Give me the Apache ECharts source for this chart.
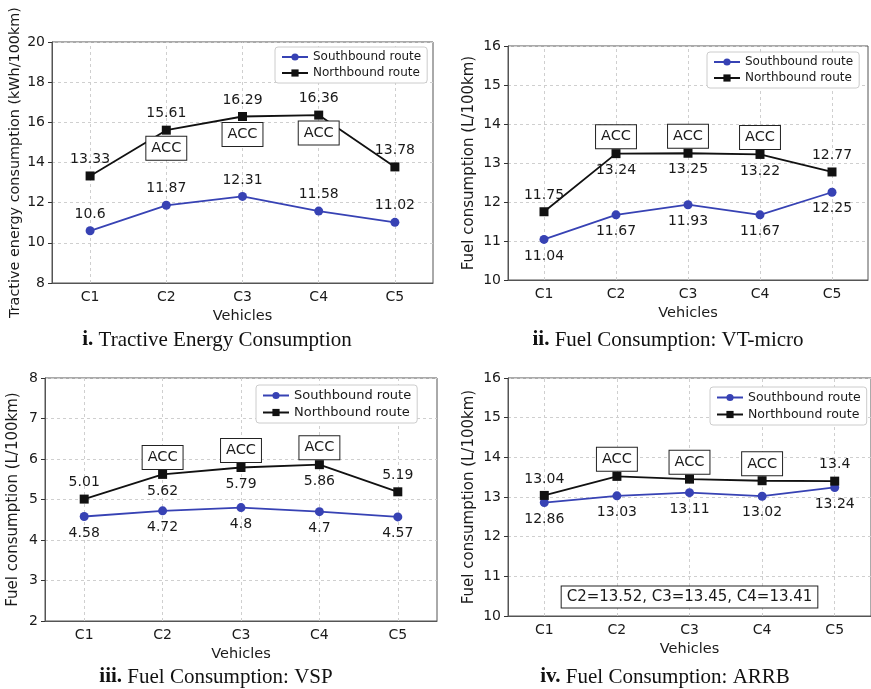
<!DOCTYPE html>
<html>
<head>
<meta charset="UTF-8">
<title>ACC consumption panels</title>
<script src="https://cdn.jsdelivr.net/npm/echarts@6/dist/echarts.min.js"></script>
<style>
  html, body { margin: 0; padding: 0; background: #fff; }
  #main { width: 871px; height: 689px; }
</style>
</head>
<body>
<div id="main"></div>
<script>
// vehicles on the x axis
var cats = ['C1', 'C2', 'C3', 'C4', 'C5'];

// i. tractive energy (kWh/100km)
var tecSouth = [10.6, 11.87, 12.31, 11.58, 11.02];
var tecNorth = [13.33, 15.61, 16.29, 16.36, 13.78];
// ii. VT-micro (L/100km)
var vtSouth = [11.04, 11.67, 11.93, 11.67, 12.25];
var vtNorth = [11.75, 13.24, 13.25, 13.22, 12.77];
// iii. VSP (L/100km)
var vspSouth = [4.58, 4.72, 4.8, 4.7, 4.57];
var vspNorth = [5.01, 5.62, 5.79, 5.86, 5.19];
// iv. ARRB (L/100km)
var arrbSouth = [12.86, 13.03, 13.11, 13.02, 13.24];
var arrbNorth = [13.04, 13.52, 13.45, 13.41, 13.4];

var accCars = ['C2', 'C3', 'C4'];

var BLUE = '#3742b4';
var BLACK = '#111';
var FONT = 'DejaVu Sans';

// panel layout (pixels)
var panels = [
    {grid: {left: 52, top: 42, width: 381, height: 241}, y: [8, 20, 2], yName: 'Tractive energy consumption (kWh/100km)', nameGap: 30, nameFs: 14.4,
     legend: {left: 275, top: 47, fs: 12}, south: tecSouth, north: tecNorth,
     sPos: ['top', 'top', 'top', 'top', 'top'], nPos: ['top', 'top', 'top', 'top', 'top'], acc: 18},
    {grid: {left: 508, top: 46, width: 360, height: 234}, y: [10, 16, 1], yName: 'Fuel consumption (L/100km)', nameGap: 31, nameFs: 15,
     legend: {left: 707, top: 52, fs: 12}, south: vtSouth, north: vtNorth,
     sPos: ['bottom', 'bottom', 'bottom', 'bottom', 'bottom'], nPos: ['top', 'bottom', 'bottom', 'bottom', 'top'], acc: -17},
    {grid: {left: 45, top: 378, width: 392, height: 243}, y: [2, 8, 1], yName: 'Fuel consumption (L/100km)', nameGap: 24, nameFs: 15,
     legend: {left: 256, top: 385, fs: 13}, south: vspSouth, north: vspNorth,
     sPos: ['bottom', 'bottom', 'bottom', 'bottom', 'bottom'], nPos: ['top', 'bottom', 'bottom', 'bottom', 'top'], acc: -17},
    {grid: {left: 508, top: 378, width: 366, height: 238}, y: [10, 16, 1], yName: 'Fuel consumption (L/100km)', nameGap: 31, nameFs: 15,
     legend: {left: 710, top: 387, fs: 12.5}, south: arrbSouth, north: arrbNorth,
     sPos: ['bottom', 'bottom', 'bottom', 'bottom', 'bottom'], nPos: ['top', null, null, null, 'top'], acc: -17}
];

var grids = [], xAxes = [], yAxes = [], series = [], legends = [];

panels.forEach(function (p, i) {
    grids.push({left: p.grid.left, top: p.grid.top, width: p.grid.width, height: p.grid.height,
                show: true, borderColor: '#555', borderWidth: 1});
    xAxes.push({
        type: 'category', gridIndex: i, data: cats, boundaryGap: true,
        name: 'Vehicles', nameLocation: 'middle', nameGap: 26,
        nameTextStyle: {fontFamily: FONT, fontSize: 14.5, color: '#1a1a1a'},
        axisLine: {lineStyle: {color: '#555'}},
        axisTick: {alignWithLabel: true, length: 4, lineStyle: {color: '#333'}},
        axisLabel: {fontFamily: FONT, fontSize: 14, color: '#1a1a1a', margin: 7},
        splitLine: {show: false}
    });
    yAxes.push({
        type: 'value', gridIndex: i, min: p.y[0], max: p.y[1], interval: p.y[2],
        name: p.yName, nameLocation: 'middle', nameGap: p.nameGap,
        nameTextStyle: {fontFamily: FONT, fontSize: p.nameFs, color: '#1a1a1a'},
        axisLine: {show: true, lineStyle: {color: '#555'}},
        axisTick: {show: true, length: 4, lineStyle: {color: '#333'}},
        axisLabel: {fontFamily: FONT, fontSize: 14, color: '#1a1a1a', margin: 7},
        splitLine: {show: true, lineStyle: {color: '#cfcfcf', type: [3, 3], width: 1}}
    });

    var labelFor = function (pos) {
        if (!pos) return {show: false};
        return {show: true, position: pos, distance: 5, fontFamily: FONT, fontSize: 14, color: '#1a1a1a'};
    };

    series.push({
        name: 'Southbound route', type: 'line', xAxisIndex: i, yAxisIndex: i,
        symbol: 'circle', symbolSize: 9, z: 3,
        lineStyle: {color: BLUE, width: 1.8}, itemStyle: {color: BLUE},
        data: p.south.map(function (v, k) { return {value: v, label: labelFor(p.sPos[k])}; }),
        markLine: {
            silent: true, symbol: 'none', z: 1, animation: false,
            label: {show: false},
            lineStyle: {color: '#cfcfcf', type: [3, 3], width: 1},
            data: cats.map(function (c) { return {xAxis: c}; })
        },
        markPoint: i === 3 ? {
            silent: true, symbol: 'rect', symbolSize: 1, itemStyle: {color: 'rgba(0,0,0,0)'},
            label: {show: true, position: 'inside', formatter: 'C2=13.52, C3=13.45, C4=13.41',
                    fontFamily: FONT, fontSize: 15, color: '#1a1a1a', backgroundColor: '#fff',
                    borderColor: '#222', borderWidth: 1, padding: [3, 5]},
            data: [{coord: ['C3', 10.48]}]
        } : undefined
    });

    series.push({
        name: 'Northbound route', type: 'line', xAxisIndex: i, yAxisIndex: i,
        symbol: 'rect', symbolSize: 9, z: 4,
        lineStyle: {color: BLACK, width: 1.8}, itemStyle: {color: BLACK},
        data: p.north.map(function (v, k) { return {value: v, label: labelFor(p.nPos[k])}; }),
        markPoint: {
            silent: true, symbol: 'rect', symbolSize: 1, itemStyle: {color: 'rgba(0,0,0,0)'},
            label: {show: true, position: 'inside', formatter: 'ACC', offset: [0, p.acc],
                    fontFamily: FONT, fontSize: 14.5, color: '#1a1a1a', backgroundColor: '#fff',
                    borderColor: '#222', borderWidth: 1, padding: [4, 5]},
            data: accCars.map(function (c) {
                return {coord: [c, p.north[cats.indexOf(c)]]};
            })
        }
    });

    legends.push({
        left: p.legend.left, top: p.legend.top, orient: 'vertical',
        data: ['Southbound route', 'Northbound route'],
        backgroundColor: '#fff', borderColor: '#ccc', borderWidth: 1, borderRadius: 3,
        padding: [4, 6], itemGap: 4, itemWidth: 26, itemHeight: 9,
        textStyle: {fontFamily: FONT, fontSize: p.legend.fs, color: '#1a1a1a'},
        selectedMode: false
    });
});

// subplot captions
var captions = [
    {x: 217, y: 340, n: 'i.', t: ' Tractive Energy Consumption'},
    {x: 668, y: 340, n: 'ii.', t: ' Fuel Consumption: VT-micro'},
    {x: 216, y: 677, n: 'iii.', t: ' Fuel Consumption: VSP'},
    {x: 665, y: 677, n: 'iv.', t: ' Fuel Consumption: ARRB'}
];

var chart = echarts.init(document.getElementById('main'));
chart.setOption({
    animation: false,
    backgroundColor: '#fff',
    grid: grids,
    xAxis: xAxes,
    yAxis: yAxes,
    legend: legends,
    series: series,
    graphic: captions.map(function (c) {
        return {
            type: 'text', x: c.x, y: c.y,
            style: {
                text: '{b|' + c.n + '}{r|' + c.t + '}',
                align: 'center', verticalAlign: 'middle',
                rich: {
                    b: {fontFamily: 'Liberation Serif', fontSize: 21, fontWeight: 'bold', fill: '#111'},
                    r: {fontFamily: 'Liberation Serif', fontSize: 21, fill: '#111'}
                }
            }
        };
    })
});
</script>
</body>
</html>
